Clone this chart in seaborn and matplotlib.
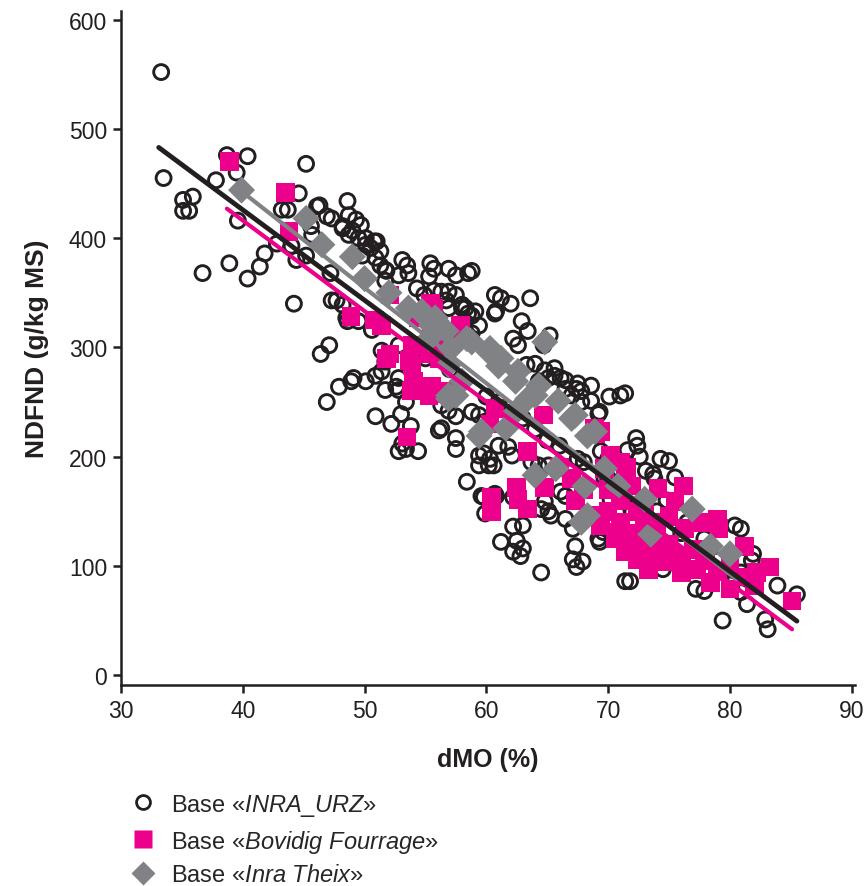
import numpy as np
import pandas as pd
import matplotlib
matplotlib.use("Agg")
import matplotlib.pyplot as plt
import seaborn as sns
from matplotlib.lines import Line2D

# ---------------- data ----------------
urz_x = [33.3, 33.5, 35.1, 35.9, 35.1, 35.6, 37.8, 38.7, 40.4, 39.5, 45.2, 39.6, 38.9, 36.7, 40.4,
         41.4, 41.8, 44.2, 44.6, 43.7, 46.1, 46.9, 47.3, 45.6, 45.7, 42.8, 44.0, 44.4, 45.2, 47.3,
         47.2, 47.1, 46.4, 46.9, 47.9, 49.1, 48.6, 46.3, 48.6, 48.7, 49.3, 48.2, 49.0, 49.7, 50.1,
         51.0, 50.5, 51.3, 49.8, 50.9, 53.1, 53.5, 55.4, 55.7, 56.9, 57.5, 58.8, 51.8, 51.7, 52.8,
         53.6, 54.3, 54.9, 55.7, 56.3, 56.7, 58.3, 58.8, 59.4, 60.7, 47.7, 60.7, 61.2, 62.0, 60.8,
         63.6, 62.9, 63.4, 62.2, 62.6, 65.2, 64.7, 63.3, 65.6, 65.1, 64.3, 66.5, 67.5, 67.8, 68.6,
         68.6, 69.3, 70.1, 71.0, 58.5, 56.9, 58.0, 59.1, 58.8, 56.3, 57.5, 57.5, 59.4, 60.3, 58.8,
         59.4, 59.9, 48.9, 50.1, 50.9, 51.4, 51.7, 52.6, 52.8, 50.9, 52.2, 53.0, 53.8, 53.1, 52.8,
         51.4, 51.7, 59.8, 59.4, 60.2, 60.6, 58.4, 59.8, 60.8, 59.9, 62.2, 62.2, 63.0, 61.2, 62.5,
         62.2, 63.0, 62.8, 64.5, 65.1, 65.3, 64.8, 66.5, 67.1, 67.3, 67.1, 67.9, 67.4, 69.3, 66.1,
         71.4, 72.3, 71.6, 72.6, 74.3, 75.5, 73.1, 73.7, 73.8, 80.4, 80.9, 81.8, 80.9, 80.4, 83.9,
         85.5, 77.2, 77.9, 79.4, 82.9, 83.1, 71.8, 74.5, 69.2, 70.0, 69.6, 69.4, 70.0, 80.0, 81.3,
         80.9, 81.4, 56.1, 59.6, 60.7, 64.5, 67.4, 71.4, 69.2, 72.4, 64.0, 64.8, 65.6, 66.1, 66.5,
         67.0, 67.8, 52.8, 52.8, 53.4, 53.4, 54.4, 56.3, 56.9, 57.5, 61.0, 61.8, 62.1, 63.7, 64.3,
         65.1, 67.5, 67.0, 66.5, 69.7, 70.2, 70.8, 71.9, 43.2, 48.2, 48.7, 49.5, 50.1, 50.8, 51.3,
         51.7, 55.3, 57.5, 56.9, 58.0, 58.5, 48.2, 48.5, 49.5, 50.6, 54.0, 55.0, 57.0, 58.0, 60.0,
         61.0, 62.0, 63.0, 64.0, 65.0, 66.0, 68.0, 70.0, 72.0, 74.0, 76.0, 78.0, 79.0, 82.0, 77.9,
         81.9, 75.0, 76.5, 74.8]
urz_y = [552, 455, 435, 438, 425, 425, 453, 476, 475, 460, 468, 416, 377, 368, 363,
         374, 386, 340, 441, 426, 429, 420, 418, 411, 403, 395, 393, 380, 384, 343,
         368, 302, 294, 250, 264, 272, 324, 430, 434, 421, 417, 411, 407, 412, 400,
         397, 391, 388, 384, 382, 380, 375, 377, 372, 372, 366, 370, 370, 361, 366,
         368, 354, 348, 352, 351, 343, 336, 329, 320, 331, 343, 348, 345, 340, 333,
         345, 324, 315, 308, 302, 311, 302, 284, 281, 272, 269, 270, 267, 260, 265,
         251, 241, 255, 256, 368, 351, 339, 333, 313, 226, 217, 207, 201, 198, 241,
         238, 232, 269, 269, 274, 278, 261, 264, 261, 237, 230, 239, 228, 212, 205,
         297, 287, 203, 192, 192, 192, 177, 163, 164, 148, 163, 136, 137, 122, 123,
         113, 116, 109, 94, 150, 146, 159, 143, 134, 118, 106, 104, 99, 122, 168,
         86, 217, 206, 200, 198, 181, 187, 184, 180, 137, 134, 105, 94, 90, 82,
         74, 79, 77, 50, 51, 42, 86, 97, 125, 143, 131, 205, 198, 83, 82,
         76, 65, 224, 164, 166, 152, 262, 258, 239, 210, 285, 279, 274, 272, 262,
         256, 250, 302, 272, 250, 207, 205, 247, 242, 237, 210, 209, 201, 195, 192,
         192, 198, 186, 164, 180, 161, 152, 152, 426, 409, 403, 400, 394, 397, 375,
         371, 365, 348, 336, 336, 331, 339, 327, 324, 316, 300, 290, 280, 270, 255,
         250, 240, 235, 225, 215, 210, 195, 180, 165, 150, 130, 115, 105, 85, 125,
         111, 196, 140, 160]

bov_x = [38.9, 43.5, 43.8, 52.1, 48.9, 50.8, 52.1, 51.8, 53.5, 53.7, 53.8, 54.0, 55.4, 57.9, 54.4,
         55.3, 56.1, 55.4, 56.7, 56.1, 57.1, 51.4, 53.9, 55.5, 55.3, 53.9, 55.5, 60.7, 60.3, 63.4,
         64.7, 69.0, 71.0, 62.6, 63.4, 64.8, 67.3, 68.9, 69.4, 70.6, 71.4, 71.5, 69.7, 71.9, 74.1,
         75.5, 69.2, 70.6, 73.5, 73.3, 74.6, 76.0, 77.3, 77.3, 79.0, 79.1, 76.3, 81.2, 78.4, 80.0,
         83.3, 82.2, 85.1, 72.4, 74.9, 76.2, 60.4, 60.4, 62.5, 70.0, 71.0, 72.0, 72.5, 73.0, 74.0,
         75.0, 76.0, 77.0, 78.0, 79.0, 80.0, 81.0, 82.0, 75.0, 78.0, 73.0, 71.0, 67.0, 66.0, 68.0,
         70.0, 74.0, 68.9, 70.2, 71.4, 55.7, 69.4, 72.4]
bov_y = [470, 442, 406, 348, 328, 325, 294, 290, 218, 288, 260, 269, 340, 320, 327,
         294, 290, 258, 260, 308, 304, 320, 284, 264, 256, 302, 308, 244, 230, 205,
         238, 221, 195, 161, 152, 172, 160, 146, 137, 125, 113, 190, 189, 173, 171,
         159, 146, 131, 113, 97, 113, 94, 97, 140, 143, 134, 134, 118, 85, 79,
         99, 94, 68, 106, 104, 173, 163, 150, 172, 150, 140, 130, 120, 135, 125,
         120, 110, 115, 105, 95, 100, 90, 82, 145, 140, 148, 160, 180, 190, 170,
         170, 140, 226, 201, 186, 336, 223, 150]

thx_x = [39.9, 45.2, 46.5, 49.0, 50.0, 53.6, 55.8, 58.4, 60.3, 54.9, 56.7, 58.8, 61.2, 62.6, 64.3,
         65.9, 67.3, 68.3, 64.8, 56.9, 58.0, 59.4, 61.6, 62.4, 63.4, 55.3, 55.5, 57.1, 60.2, 61.0,
         62.4, 64.0, 67.0, 68.9, 59.6, 64.0, 65.7, 68.1, 68.3, 56.9, 76.9, 73.5, 78.4, 80.0, 73.0,
         69.7, 70.8, 67.8, 56.9, 54.7, 52.0, 57.5]
thx_y = [444, 418, 394, 383, 363, 336, 327, 308, 299, 329, 315, 305, 290, 278, 265,
         251, 238, 219, 305, 256, 269, 219, 226, 241, 253, 308, 320, 299, 296, 283,
         269, 256, 235, 223, 223, 183, 189, 173, 146, 253, 152, 129, 118, 111, 161,
         189, 173, 140, 284, 333, 350, 256]

# regression lines (end points)
fit_black_x = [33.1, 85.5]
fit_black_y = [483, 49.5]
fit_pink_x = [38.7, 85.1]
fit_pink_y = [427, 42]
fit_gray_x = [40.0, 80.5]
fit_gray_y = [442, 88]

labels = ["INRA\\_URZ", "Bovidig\\ Fourrage", "Inra\\ Theix"]

# ---------------- style ----------------
BLACK = "#231F20"
PINK = "#EC008C"
GRAY = "#808285"

sns.set_theme(style="ticks")
plt.rcParams["font.family"] = ["Liberation Sans", "DejaVu Sans"]
plt.rcParams["mathtext.fontset"] = "custom"
plt.rcParams["mathtext.rm"] = "Liberation Sans"
plt.rcParams["mathtext.it"] = "Liberation Sans:italic"

fig = plt.figure(figsize=(8.64, 8.87), dpi=100)
ax = fig.add_axes([0.140, 0.2266, 0.850, 0.760])

urz = pd.DataFrame({"x": urz_x, "y": urz_y})
bov = pd.DataFrame({"x": bov_x, "y": bov_y})
thx = pd.DataFrame({"x": thx_x, "y": thx_y})

sns.scatterplot(data=urz, x="x", y="y", ax=ax, marker="o", s=115,
                facecolor="none", edgecolor=BLACK, linewidth=2.1, zorder=2)
sns.scatterplot(data=bov, x="x", y="y", ax=ax, marker="s", s=180,
                color=PINK, edgecolor="none", linewidth=0, zorder=3)
sns.scatterplot(data=thx, x="x", y="y", ax=ax, marker="D", s=190,
                color=GRAY, edgecolor="none", linewidth=0, zorder=4)

sns.lineplot(x=fit_gray_x, y=fit_gray_y, ax=ax, color=GRAY, linewidth=3, zorder=5)
sns.lineplot(x=fit_pink_x, y=fit_pink_y, ax=ax, color=PINK, linewidth=3, zorder=6)
sns.lineplot(x=fit_black_x, y=fit_black_y, ax=ax, color=BLACK, linewidth=3.5, zorder=7)

ax.set_xlim(30, 90.3)
ax.set_ylim(-9, 608)
ax.set_xticks([30, 40, 50, 60, 70, 80, 90])
ax.set_yticks([0, 100, 200, 300, 400, 500, 600])
ax.tick_params(axis="both", direction="out", length=6, width=1.8, labelsize=16.5,
               colors=BLACK, pad=4)
for s in ["top", "right"]:
    ax.spines[s].set_visible(False)
for s in ["left", "bottom"]:
    ax.spines[s].set_linewidth(1.8)
    ax.spines[s].set_color(BLACK)

ax.set_xlabel("dMO (%)", fontsize=18, fontweight="bold", color=BLACK, labelpad=18)
ax.set_ylabel("NDFND (g/kg MS)", fontsize=19, fontweight="bold", color=BLACK, labelpad=14)

handles = [
    Line2D([], [], marker="o", linestyle="none", markersize=10, markerfacecolor="none",
           markeredgecolor=BLACK, markeredgewidth=2),
    Line2D([], [], marker="s", linestyle="none", markersize=13, markerfacecolor=PINK,
           markeredgecolor="none"),
    Line2D([], [], marker="D", linestyle="none", markersize=12, markerfacecolor=GRAY,
           markeredgecolor="none"),
]
texts = ["Base «$\\it{%s}$»" % l for l in labels]
fig.legend(handles, texts, loc="upper left", bbox_to_anchor=(0.138, 0.117),
           frameon=False, fontsize=17, handletextpad=0.6, labelspacing=0.42,
           borderaxespad=0, handlelength=1.2)

fig.savefig("out.png", dpi=100)
